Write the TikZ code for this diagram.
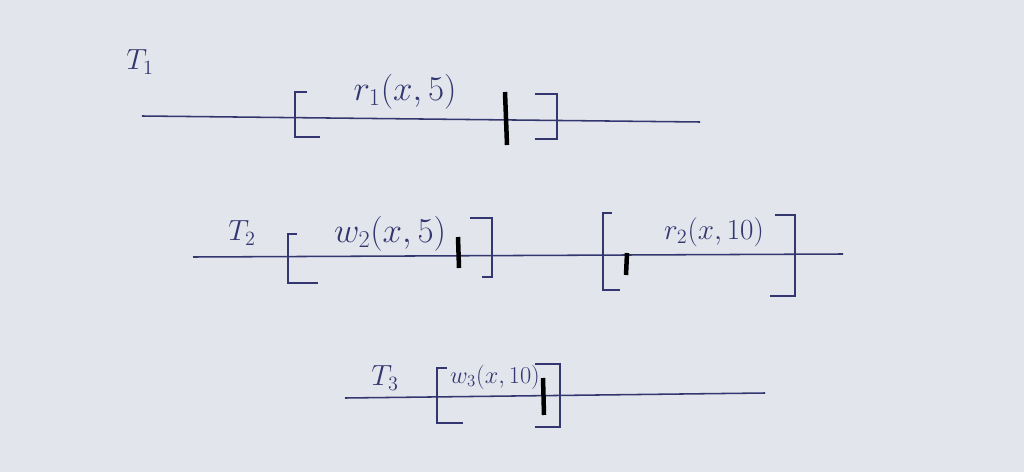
\documentclass[tikz,border=0pt]{standalone}
\usepackage{xcolor}
\usepackage{amsmath}
\usepackage{tikz}
\definecolor{ink}{RGB}{52,54,112}
\definecolor{paper}{RGB}{226,229,235}
\tikzset{timeline/.style = {draw=ink,line width=1.1pt},
 brk/.style = {draw=ink,line width=1.3pt},
 commitbar/.style = {draw=black,line width=3.2pt},
 oplabel/.style = {text=ink,font=\fontsize{#1}{#1}\selectfont,inner sep=1pt},
 oplabel/.default = 17}
% bracket: x, top y, bottom y, top tick x, bottom tick x
\NewDocumentCommand{\fbracket}{O{brk} m m m m m}{%
\draw[#1] (#5,#3) -- (#2,#3) -- (#2,#4) -- (#6,#4);
}

\begin{document}
\begin{tikzpicture}[x=0.025cm,y=-0.025cm]
\fill[paper] (0,0) rectangle (1024,472);
\useasboundingbox (0,0) rectangle (1024,472);

% T1
\node[oplabel=21] (t1) at (140,62) {$T_1$};
\draw[timeline] (142,116) -- (700,122);
\fbracket{295}{92}{137}{307}{320}
\fbracket{557}{94}{139}{535}{535}
\node[oplabel=25] (r1) at (405,92) {$r_1(x,5)$};
\draw[commitbar] (505,92) -- (507,145);

% T2
\node[oplabel=21] (t2) at (242,233) {$T_2$};
\draw[timeline] (193,257) -- (843,254);
\fbracket{288}{234}{283}{297}{318}
\fbracket{492}{218}{277}{470}{482}
\node[oplabel=25] (w2) at (390,234) {$w_2(x,5)$};
\draw[commitbar] (458,237) -- (459,268);
\fbracket{603}{213}{290}{612}{620}
\fbracket{795}{215}{296}{775}{770}
\node[oplabel=21] (r2) at (714,232) {$r_2(x,10)$};
\draw[commitbar] (627,253) -- (626,275);

% T3
\node[oplabel=20] (t3) at (385,378) {$T_3$};
\draw[timeline] (345,398) -- (765,393);
\fbracket{437}{368}{423}{447}{463}
\fbracket{560}{364}{427}{535}{535}
\node[oplabel=17] (w3) at (495,377) {$w_3(x,10)$};
\draw[commitbar] (543,378) -- (544,415);
\end{tikzpicture}
\end{document}
